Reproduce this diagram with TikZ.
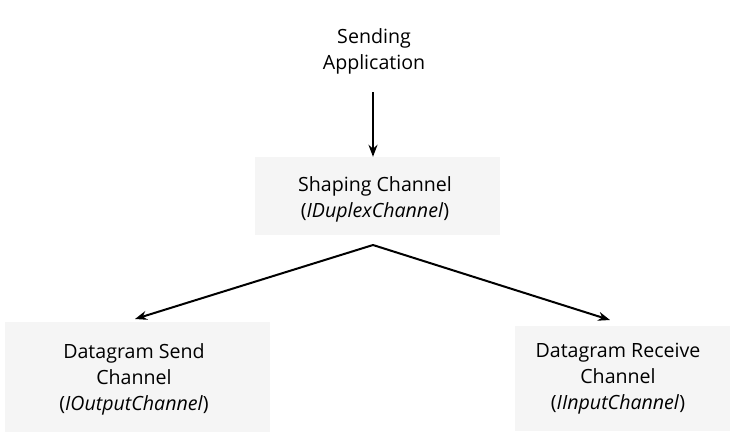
\documentclass[tikz,border=0pt]{standalone}
\usepackage{fontspec}
\setmainfont{Open Sans}
\usetikzlibrary{arrows.meta}
\begin{document}
\begin{tikzpicture}[x=1pt,y=-1pt,
  lbl/.style={align=center,font=\fontsize{19.6}{26}\selectfont,inner sep=0pt},
  panel/.style={fill=black!4,draw=none,inner sep=0pt},
  link/.style={line width=2pt,-{Stealth[length=12pt,width=9pt]}}]
  \useasboundingbox (0,0) rectangle (736,432);
  % shaded panels behind the channel labels
  \node[panel,minimum width=245pt,minimum height=78pt] (shapebox) at (377,196) {};
  \node[panel,minimum width=265pt,minimum height=110pt] (sendbox) at (137,377) {};
  \node[panel,minimum width=215pt,minimum height=105pt] (recvbox) at (622,378) {};
  % labels
  \node[lbl] (app) at (374,51) {Sending\\Application};
  \node[lbl] (shaping) at (375,199) {Shaping Channel\\(\textit{IDuplexChannel})};
  \node[lbl] (send) at (134,379) {Datagram Send\\Channel\\(\textit{IOutputChannel})};
  \node[lbl] (recv) at (618,379) {Datagram Receive\\Channel\\(\textit{IInputChannel})};
  % connectors
  \coordinate (drop) at (373,92);
  \coordinate (fork) at (373,245);
  \coordinate (sendtop) at (135,319);
  \coordinate (recvtop) at (610,320);
  \draw[link] (drop) -- (shapebox.north -| drop);
  \draw[link] (fork) -- (sendtop);
  \draw[link] (fork) -- (recvtop);
\end{tikzpicture}
\end{document}
